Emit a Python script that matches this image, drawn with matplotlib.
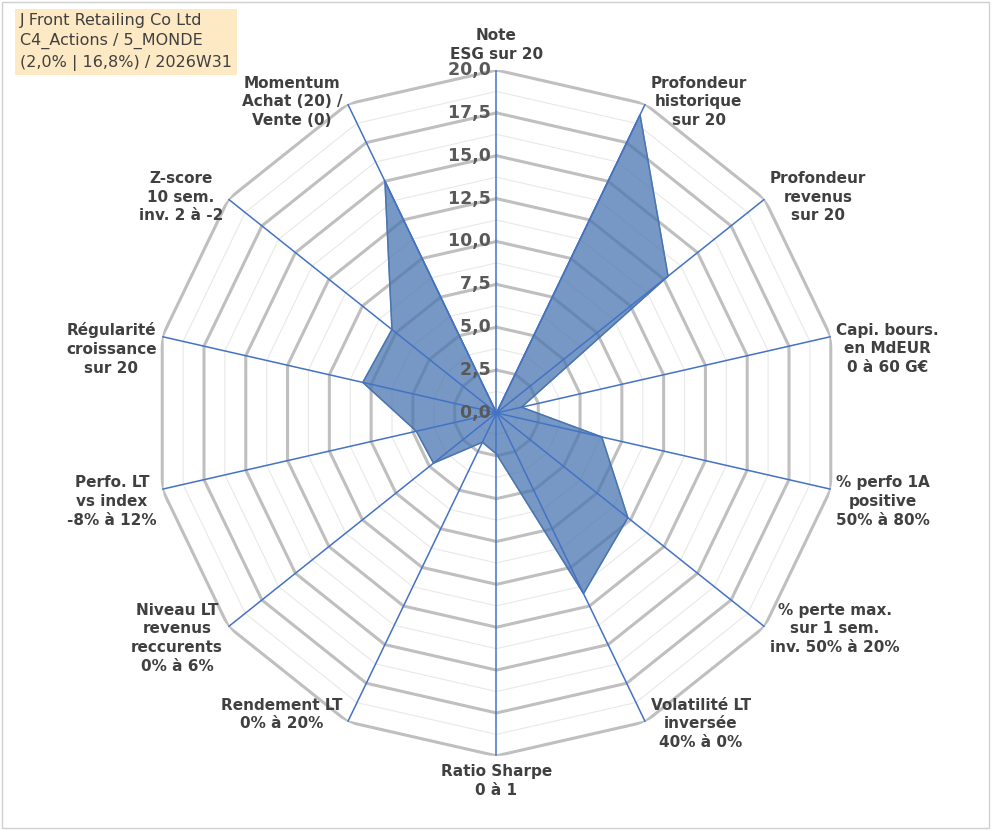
import numpy as np
import matplotlib
matplotlib.use("Agg")
import matplotlib.pyplot as plt

labels = ["Note\nESG sur 20", "Profondeur\nhistorique\nsur 20", "Profondeur\nrevenus\nsur 20",
          "Capi. bours.\nen MdEUR\n0 à 60 G€", "% perfo 1A\npositive\n50% à 80%",
          "% perte max.\nsur 1 sem.\ninv. 50% à 20%", "Volatilité LT\ninversée\n40% à 0%",
          "Ratio Sharpe\n0 à 1", "Rendement LT\n0% à 20%", "Niveau LT\nrevenus\nreccurents\n0% à 6%",
          "Perfo. LT\nvs index\n-8% à 12%", "Régularité\ncroissance\nsur 20",
          "Z-score\n10 sem.\ninv. 2 à -2", "Momentum\nAchat (20) /\nVente (0)"]
values = [0, 19.3, 12.8, 1.5, 6.3, 9.8, 11.7, 2.4, 1.9, 4.7, 4.8, 8.0, 7.8, 15.0]
ticks = [0, 2.5, 5, 7.5, 10, 12.5, 15, 17.5, 20]

n = len(labels)
ang = np.linspace(0, 2*np.pi, n, endpoint=False)

fig = plt.figure(figsize=(9.91, 8.30), dpi=100)
ax = fig.add_axes([0.155, 0.088, 0.692, 0.829], polar=True)
ax.set_theta_zero_location("N")
ax.set_theta_direction(-1)
ax.set_ylim(0, 20)
ax.spines["polar"].set_visible(False)
ax.grid(False)
ax.set_xticks([]); ax.set_yticks([])

closed = np.append(ang, ang[0])
for r in np.arange(1.25, 20.01, 1.25):
    major = abs(r/2.5 - round(r/2.5)) < 1e-6
    ax.plot(closed, [r]*(n+1), color="#bfbfbf" if major else "#e8e8e8",
            lw=2.2 if major else 0.8, zorder=1)
for a in ang:
    ax.plot([a, a], [0, 20], color="#4472c4", lw=1.1, zorder=3)

v = np.append(values, values[0])
ax.fill(closed, v, color="#4a76b0", alpha=0.75, zorder=2)
ax.plot(closed, v, color="#4a76b0", lw=1, zorder=2)

for t in ticks:
    ax.text(0, t, f"{t:.1f}".replace(".", ",") + " ", ha="right", va="center",
            fontsize=12.5, fontweight="bold", color="#595959", zorder=4)

for a, lab in zip(ang, labels):
    s, c = np.sin(a), np.cos(a)
    if abs(s) < 0.2:
        ha = "center"
        va = "bottom" if c > 0 else "top"
        px, py = 0.5, 0.5 + 0.5*c + (0.012 if c > 0 else -0.012)
    else:
        ha = "left" if s > 0 else "right"
        px = 0.5 + 0.5*s + 0.008*np.sign(s)
        py = 0.5 + 0.5*c
        if c > 0.6:
            va = "bottom"; py -= 0.035
        elif c < -0.6:
            va = "top"; py += 0.035
        else:
            va = "center"
            py -= 0.06 * (1 if s > 0 else 1) * (0.3 if abs(c) < 0.6 else 0)
    ax.text(px, py, lab, ha=ha, va=va, multialignment="center", fontsize=11,
            fontweight="bold", color="#404040", linespacing=1.3, transform=ax.transAxes)

fig.text(0.02, 0.915, "J Front Retailing Co Ltd\nC4_Actions / 5_MONDE\n(2,0% | 16,8%) / 2026W31",
         fontsize=11.5, color="#404040", va="bottom", ha="left", linespacing=1.45,
         bbox=dict(boxstyle="square,pad=0.3", fc="#fde9c4", ec="none"))
fig.patches.append(plt.Rectangle((0.002, 0.002), 0.996, 0.996, transform=fig.transFigure,
                                 fill=False, ec="#d0d0d0", lw=1))
fig.savefig("out.png", dpi=100, facecolor="white")
